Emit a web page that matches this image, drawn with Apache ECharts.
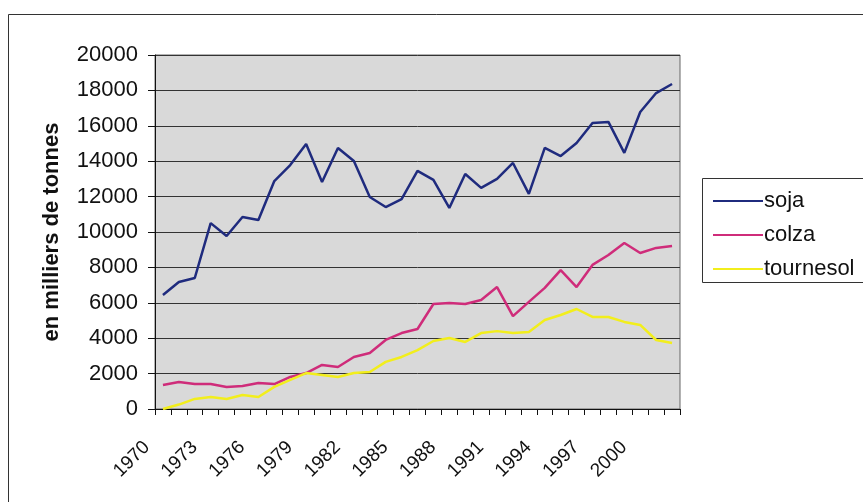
<!DOCTYPE html>
<html>
<head>
<meta charset="utf-8">
<script src="https://cdn.jsdelivr.net/npm/echarts@6/dist/echarts.min.js"></script>
<style>
html,body{margin:0;padding:0;background:#fff;}
#chart{width:863px;height:502px;}
</style>
</head>
<body>
<div id="chart"></div>
<script>
var years = ['1970','1971','1972','1973','1974','1975','1976','1977','1978','1979','1980','1981','1982','1983','1984','1985','1986','1987','1988','1989','1990','1991','1992','1993','1994','1995','1996','1997','1998','1999','2000','2001','2002'];
var soja = [6440,7180,7400,10500,9770,10850,10680,12880,13780,14970,12830,14750,14010,11980,11410,11860,13450,12940,11360,13280,12490,13000,13900,12150,14750,14290,15030,16160,16220,14470,16780,17850,18360];
var colza = [1360,1520,1410,1410,1240,1300,1470,1410,1810,2030,2490,2370,2940,3160,3900,4290,4520,5930,5990,5930,6160,6890,5250,6050,6840,7850,6890,8140,8700,9380,8810,9100,9210];
var tournesol = [0,250,570,680,570,790,680,1250,1640,2030,1920,1810,2030,2090,2660,2940,3330,3840,4010,3790,4290,4400,4290,4350,5030,5310,5650,5200,5200,4920,4750,3900,3730];
var yTicks = {min:0, max:20000, interval:2000};

var font = 'Liberation Sans, Arial, sans-serif';
var chart = echarts.init(document.getElementById('chart'), null, {renderer:'canvas'});
chart.setOption({
  animation:false,
  backgroundColor:'#ffffff',
  graphic:[
    {type:'rect', shape:{x:8.5,y:14.5,width:900,height:600}, style:{fill:'none', stroke:'#333', lineWidth:1}, z:-1},
    {type:'rect', shape:{x:702.5,y:178.5,width:200,height:104}, style:{fill:'#fff', stroke:'#333', lineWidth:1}, z:0}
  ],
  grid:{left:155, top:55, width:525, height:354, show:true, backgroundColor:'#d9d9d9', borderColor:'#666', borderWidth:1, containLabel:false},
  legend:{
    orient:'vertical', left:708, top:185, itemWidth:50, itemHeight:2, icon:'rect', itemGap:12,
    textStyle:{fontFamily:font, fontSize:22, color:'#111', padding:[0,0,0,-4]},
    data:['soja','colza','tournesol'], z:5
  },
  xAxis:{
    type:'category', data:years, boundaryGap:true,
    axisLine:{lineStyle:{color:'#111', width:1}},
    axisTick:{show:true, interval:0, length:6, lineStyle:{color:'#111'}},
    axisLabel:{interval:2, rotate:45, margin:19, fontFamily:font, fontSize:19, color:'#111', padding:[0,23,0,0]},
    splitLine:{show:false}
  },
  yAxis:{
    type:'value', min:yTicks.min, max:yTicks.max, interval:yTicks.interval,
    name:'en milliers de tonnes', nameLocation:'middle', nameGap:92,
    nameTextStyle:{fontFamily:font, fontSize:22, fontWeight:'bold', color:'#111'},
    axisLine:{show:true, lineStyle:{color:'#111', width:1}},
    axisTick:{show:true, length:7, lineStyle:{color:'#111'}},
    axisLabel:{margin:17, fontFamily:font, fontSize:22, color:'#111', formatter:function(v){return String(v);}},
    splitLine:{show:true, lineStyle:{color:'#333', width:1}}
  },
  series:[
    {name:'soja', type:'line', data:soja, symbol:'none', color:'#1f2b7e', lineStyle:{width:2.5, color:'#1f2b7e'}},
    {name:'colza', type:'line', data:colza, symbol:'none', color:'#cf2c7a', lineStyle:{width:2.5, color:'#cf2c7a'}},
    {name:'tournesol', type:'line', data:tournesol, symbol:'none', color:'#f2ee1c', lineStyle:{width:2.5, color:'#f2ee1c'}}
  ]
});
</script>
</body>
</html>
